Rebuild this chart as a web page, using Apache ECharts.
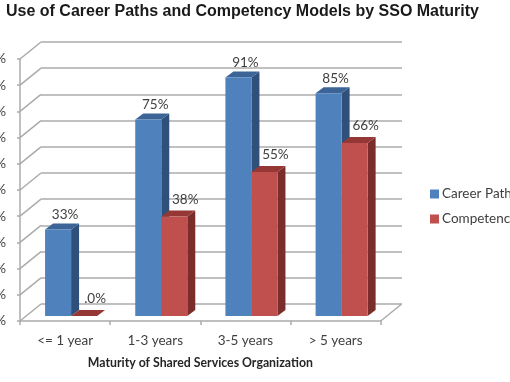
<!DOCTYPE html>
<html><head><meta charset="utf-8">
<style>html,body{margin:0;padding:0;background:#fff}#c{width:510px;height:382px;filter:blur(0.45px)}</style>
<script src="https://cdn.jsdelivr.net/npm/echarts@6/dist/echarts.min.js"></script>
</head><body><div id="c"></div>
<script>
const categories = ['<= 1 year', '1-3 years', '3-5 years', '> 5 years'];
const careerPaths = [33, 75, 91, 85];
const competencyModels = [0, 38, 55, 66];
const careerLabels = ['33%', '75%', '91%', '85%'];
const competencyLabels = ['.0%', '38%', '55%', '66%'];
const tickValues = [0, 10, 20, 30, 40, 50, 60, 70, 80, 90, 100];

const GRID = '#ababab', TXT = '#404040', FONT = 'Lato, "Open Sans", sans-serif';
const chart = echarts.init(document.getElementById('c'), null, {renderer: 'canvas'});

function barRender(side, shades, labels, labelDx, labelDy) {
  return function (params, api) {
    const i = api.value(0), v = api.value(1);
    const p = api.coord([i, v]), b = api.coord([i, 0]);
    const band = api.size([1, 0])[0], w = band * 0.2885;
    const ox = 6, oy = -5, dx = 8, dy = -6;
    const xc = p[0] + ox, x0 = side < 0 ? xc - w : xc, x1 = x0 + w;
    const yt = p[1] + oy, yb = b[1] + oy;
    return {type: 'group', children: [
      {type: 'polygon', shape: {points: [[x1, yt], [x1 + dx, yt + dy], [x1 + dx, yb + dy], [x1, yb]]}, style: {fill: shades[2]}},
      {type: 'polygon', shape: {points: [[x0, yt], [x0 + dx, yt + dy], [x1 + dx, yt + dy], [x1, yt]]}, style: {fill: shades[1]}},
      {type: 'rect', shape: {x: x0, y: yt, width: w, height: yb - yt}, style: {fill: shades[0]}},
      {type: 'text', z2: 10, style: {text: labels[params.dataIndex], x: (x0 + x1) / 2 + labelDx, y: yt + labelDy, align: 'center', verticalAlign: 'middle', font: '13.5px ' + FONT, fill: TXT}}
    ]};
  };
}

function wallRender(params, api) {
  const v = api.value(0), band = api.size([1, 0])[0];
  const pl = api.coord([0, v]), pr = api.coord([3, v]);
  const xl = pl[0] - band / 2, xr = pr[0] + band / 2;
  const lineStyle = {stroke: GRID, lineWidth: 1.5};
  const kids = [{type: 'line', shape: {x1: xl, y1: pl[1], x2: xl + 21, y2: pl[1] - 17}, style: lineStyle}];
  if (v === 0) kids.push({type: 'line', shape: {x1: xr, y1: pr[1], x2: xr + 21, y2: pr[1] - 17}, style: lineStyle});
  return {type: 'group', children: kids};
}

chart.setOption({
  animation: false,
  backgroundColor: '#fff',
  title: {text: 'Use of Career Paths and Competency Models by SSO Maturity', left: 1, top: -1,
    textStyle: {fontFamily: '"Liberation Sans", Arial, sans-serif', fontWeight: 'bold', fontSize: 16, color: '#1a1a1a'}},
  legend: {orient: 'vertical', left: 425, top: 182, itemWidth: 9, itemHeight: 9, itemGap: 11, icon: 'rect',
    data: ['Career Paths', 'Competency Models'], textStyle: {fontFamily: FONT, fontSize: 13.5, color: TXT, padding: [0, 0, 0, -2]}},
  grid: [
    {left: 20, top: 59, width: 360.7, height: 262, outerBoundsMode: 'none', containLabel: false},
    {left: 41, top: 42, width: 361, height: 262, outerBoundsMode: 'none', containLabel: false}
  ],
  xAxis: [
    {type: 'category', gridIndex: 0, data: categories,
      axisLine: {lineStyle: {color: GRID, width: 1.5}}, axisTick: {show: true, length: 4, lineStyle: {color: GRID, width: 1.5}},
      axisLabel: {fontFamily: FONT, fontSize: 13.5, color: TXT, margin: 13},
      name: 'Maturity of Shared Services Organization', nameLocation: 'middle', nameGap: 36,
      nameTextStyle: {fontFamily: FONT, fontWeight: 'bold', fontSize: 12.3, color: '#262626'}},
    {type: 'category', gridIndex: 1, data: categories, show: false}
  ],
  yAxis: [
    {type: 'value', gridIndex: 0, min: 0, max: 100, interval: 10,
      axisLine: {show: true, lineStyle: {color: GRID, width: 1.5}}, axisTick: {show: true, length: 3, lineStyle: {color: GRID, width: 1.5}},
      splitLine: {show: false},
      axisLabel: {formatter: '{value}%', fontFamily: FONT, fontSize: 13.5, color: TXT, margin: 14, hideOverlap: false}},
    {type: 'value', gridIndex: 1, min: 0, max: 100, interval: 10,
      axisLine: {show: false}, axisTick: {show: false}, axisLabel: {show: false},
      splitLine: {show: true, lineStyle: {color: GRID, width: 1.5}}}
  ],
  series: [
    {type: 'custom', name: 'wall', xAxisIndex: 0, yAxisIndex: 0, silent: true, z: 1, renderItem: wallRender,
      encode: {y: 0}, clip: false, data: tickValues.map(v => [v])},
    {type: 'custom', name: 'Career Paths', xAxisIndex: 0, yAxisIndex: 0, z: 3, clip: false,
      itemStyle: {color: '#4f81bd'},
      renderItem: barRender(-1, ['#4f81bd', '#3c6497', '#30507c'], careerLabels, 7, -15),
      encode: {x: 0, y: 1}, data: careerPaths.map((v, i) => [i, v])},
    {type: 'custom', name: 'Competency Models', xAxisIndex: 0, yAxisIndex: 0, z: 4, clip: false,
      itemStyle: {color: '#c0504d'},
      renderItem: barRender(1, ['#c0504d', '#953735', '#7a2d2b'], competencyLabels, 11, -17),
      encode: {x: 0, y: 1}, data: competencyModels.map((v, i) => [i, v])}
  ]
});
</script></body></html>
